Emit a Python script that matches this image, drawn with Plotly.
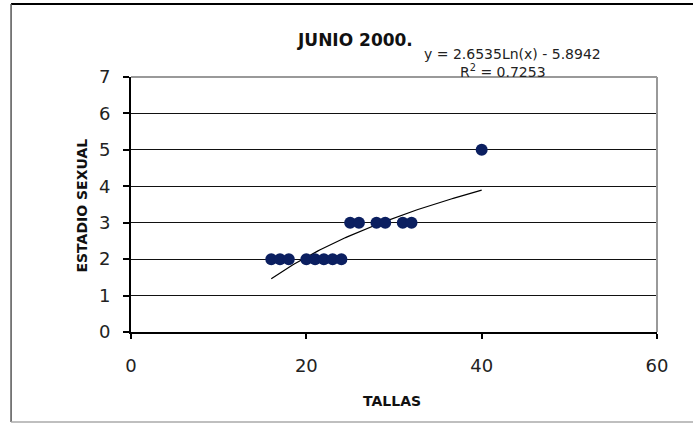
import numpy as np
import plotly.graph_objects as go

# Data
tallas = [16, 17, 18, 20, 21, 22, 23, 24, 25, 26, 28, 29, 31, 32, 40]
estadio = [2, 2, 2, 2, 2, 2, 2, 2, 3, 3, 3, 3, 3, 3, 5]

# Logarithmic trend line as printed on the chart
coef_a = 2.6535
coef_b = -5.8942
r2 = 0.7253

x_ticks = [0, 20, 40, 60]
y_ticks = [0, 1, 2, 3, 4, 5, 6, 7]

title_text = "JUNIO 2000."
x_title = "TALLAS"
y_title = "ESTADIO SEXUAL"

trend_x = np.linspace(min(tallas), max(tallas), 100)
trend_y = coef_a * np.log(trend_x) + coef_b

fig = go.Figure()
fig.add_trace(go.Scatter(x=trend_x, y=trend_y, mode="lines",
                         line=dict(color="black", width=1.2),
                         hoverinfo="skip", showlegend=False))
fig.add_trace(go.Scatter(x=tallas, y=estadio, mode="markers",
                         marker=dict(size=12, color="#0b1f60"),
                         showlegend=False))

tick_font = dict(family="DejaVu Sans", size=18, color="#222")
fig.update_xaxes(range=[0, 60], tickvals=x_ticks, showgrid=False, zeroline=False,
                 showline=True, linecolor="black", linewidth=2,
                 ticks="outside", ticklen=5, tickwidth=2, tickcolor="black",
                 tickfont=tick_font, ticklabelstandoff=11)
fig.update_yaxes(range=[0, 7], tickvals=y_ticks, showgrid=True, gridcolor="#111",
                 gridwidth=1.3, zeroline=False,
                 showline=True, linecolor="black", linewidth=2,
                 ticks="outside", ticklen=6, tickwidth=2, tickcolor="black",
                 tickfont=tick_font, ticklabelstandoff=9)

ann = []
ann.append(dict(text="<b>" + title_text + "</b>", x=0.426, y=1.145, xref="paper", yref="paper",
                showarrow=False, xanchor="center", yanchor="middle",
                font=dict(family="DejaVu Sans", size=17, color="#111")))
ann.append(dict(text=f"y = {coef_a}Ln(x) - {abs(coef_b)}", x=0.553, y=1.09,
                xref="paper", yref="paper", showarrow=False, xanchor="left", yanchor="middle",
                font=dict(family="DejaVu Sans", size=14, color="#222")))
ann.append(dict(text=f"R<sup>2</sup> = {r2}", x=0.707, y=1.025,
                xref="paper", yref="paper", showarrow=False, xanchor="center", yanchor="middle",
                font=dict(family="DejaVu Sans", size=14, color="#222")))
ann.append(dict(text="<b>" + y_title + "</b>", x=-0.095, y=0.496, xref="paper", yref="paper",
                showarrow=False, textangle=-90, xanchor="center", yanchor="middle",
                font=dict(family="DejaVu Sans", size=14, color="#111")))
ann.append(dict(text="<b>" + x_title + "</b>", x=0.496, y=-0.271, xref="paper", yref="paper",
                showarrow=False, xanchor="center", yanchor="middle",
                font=dict(family="DejaVu Sans", size=14, color="#111")))

shapes = [
    # plot area top/right border (gray)
    dict(type="line", xref="paper", yref="paper", x0=0, x1=1, y0=1, y1=1,
         line=dict(color="#999", width=2), layer="above"),
    dict(type="line", xref="paper", yref="paper", x0=1, x1=1, y0=0, y1=1,
         line=dict(color="#999", width=2), layer="above"),
    # outer chart border
    dict(type="line", xref="paper", yref="paper", x0=-0.228, x1=1.2, y0=1.286, y1=1.286,
         line=dict(color="black", width=2)),
    dict(type="line", xref="paper", yref="paper", x0=-0.228, x1=-0.228, y0=-0.353, y1=1.286,
         line=dict(color="#555", width=1.5)),
    dict(type="line", xref="paper", yref="paper", x0=-0.228, x1=1.2, y0=-0.353, y1=-0.353,
         line=dict(color="#aaa", width=1.5)),
]

fig.update_layout(width=693, height=424,
                  margin=dict(l=131, r=36, t=77, b=92),
                  paper_bgcolor="white", plot_bgcolor="white",
                  annotations=ann, shapes=shapes, showlegend=False)

fig.write_html("out.html", config={"displayModeBar": False},
               post_script="document.body.style.margin='0';document.body.style.overflow='hidden';")
